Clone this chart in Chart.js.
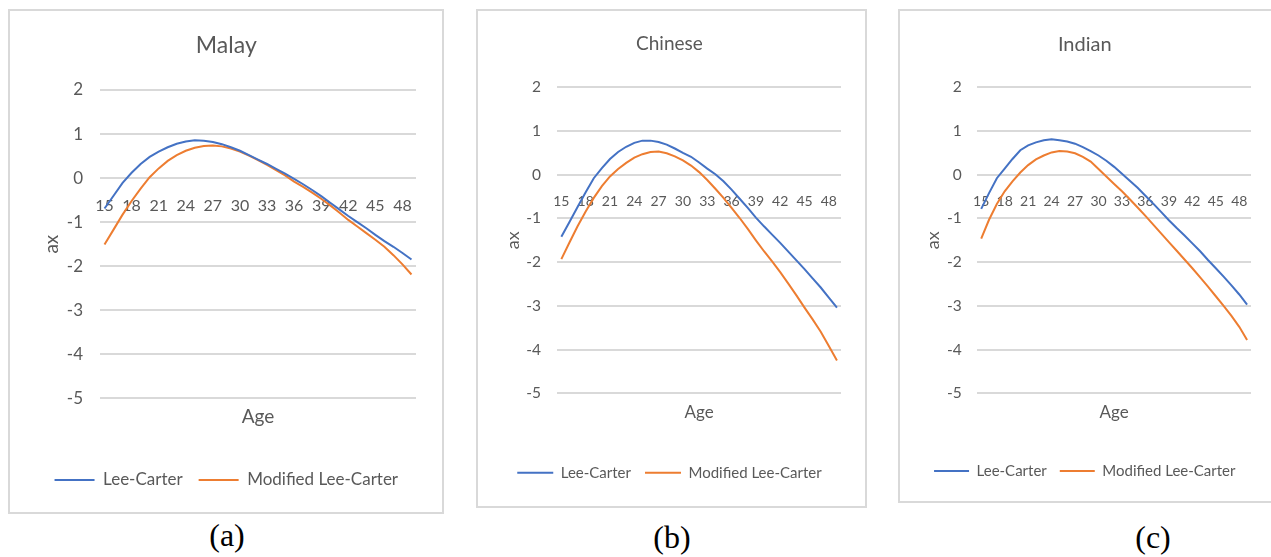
<!DOCTYPE html>
<html><head><meta charset="utf-8">
<script src="https://cdn.jsdelivr.net/npm/chart.js@4/dist/chart.umd.min.js"></script>
<style>
html,body{margin:0;padding:0;background:#fff;width:1271px;height:557px;overflow:hidden;position:relative}
.frame{position:absolute;box-sizing:border-box;border:2px solid #d9d9d9;background:#fff}
canvas{position:absolute}
.cap{position:absolute;font-family:"Liberation Serif","Times New Roman",serif;font-size:32px;color:#000;transform:translate(-50%,-50%);white-space:nowrap;line-height:1}
</style></head><body>
<div class="frame" style="left:8px;top:9px;width:436px;height:505px"></div>
<canvas id="c1" width="434" height="503" style="left:9px;top:10px"></canvas>
<div class="frame" style="left:476px;top:9px;width:391px;height:499px"></div>
<canvas id="c2" width="389" height="497" style="left:477px;top:10px"></canvas>
<div class="frame" style="left:898px;top:9px;width:380px;height:494px"></div>
<canvas id="c3" width="376" height="492" style="left:899px;top:10px"></canvas>
<div class="cap" style="left:227px;top:535px">(a)</div>
<div class="cap" style="left:672px;top:537px">(b)</div>
<div class="cap" style="left:1153px;top:537px">(c)</div>
<script>
// ---- data ----
const ages = [15,16,17,18,19,20,21,22,23,24,25,26,27,28,29,30,31,32,33,34,35,36,37,38,39,40,41,42,43,44,45,46,47,48,49];
const shownAgeTicks = [15,18,21,24,27,30,33,36,39,42,45,48];
const seriesNames = ['Lee-Carter', 'Modified Lee-Carter'];
const panelTitles = ['Malay', 'Chinese', 'Indian'];
const yMin = -5, yMax = 2, yStep = 1;

const malayLC  = [-0.69,-0.40,-0.11,0.12,0.32,0.48,0.60,0.70,0.78,0.83,0.86,0.85,0.82,0.77,0.70,0.62,0.52,0.42,0.32,0.21,0.10,-0.02,-0.14,-0.27,-0.41,-0.56,-0.71,-0.86,-1.00,-1.14,-1.29,-1.43,-1.56,-1.70,-1.85];
const malayMLC = [-1.51,-1.17,-0.83,-0.52,-0.24,0.02,0.22,0.39,0.52,0.62,0.69,0.73,0.74,0.72,0.67,0.60,0.51,0.41,0.30,0.18,0.06,-0.08,-0.20,-0.33,-0.47,-0.62,-0.78,-0.95,-1.10,-1.25,-1.40,-1.56,-1.75,-1.96,-2.19];
const chineseLC  = [-1.42,-1.08,-0.74,-0.40,-0.08,0.15,0.36,0.52,0.64,0.73,0.78,0.78,0.75,0.69,0.60,0.50,0.41,0.28,0.14,0.01,-0.15,-0.34,-0.55,-0.76,-0.98,-1.18,-1.37,-1.56,-1.76,-1.96,-2.16,-2.37,-2.58,-2.81,-3.04];
const chineseMLC = [-1.93,-1.55,-1.18,-0.84,-0.53,-0.26,-0.04,0.13,0.27,0.39,0.47,0.52,0.53,0.49,0.42,0.33,0.21,0.06,-0.12,-0.32,-0.53,-0.76,-0.99,-1.24,-1.50,-1.75,-1.98,-2.23,-2.49,-2.76,-3.04,-3.31,-3.59,-3.92,-4.25];
const indianLC  = [-0.78,-0.42,-0.08,0.14,0.36,0.56,0.67,0.74,0.79,0.81,0.79,0.76,0.71,0.63,0.54,0.44,0.32,0.18,0.02,-0.14,-0.30,-0.48,-0.66,-0.85,-1.04,-1.22,-1.39,-1.57,-1.75,-1.95,-2.14,-2.33,-2.53,-2.74,-2.97];
const indianMLC = [-1.46,-1.03,-0.67,-0.38,-0.15,0.05,0.22,0.35,0.44,0.51,0.54,0.53,0.49,0.41,0.30,0.13,-0.04,-0.21,-0.38,-0.56,-0.75,-0.94,-1.14,-1.34,-1.54,-1.74,-1.94,-2.14,-2.35,-2.56,-2.78,-3.00,-3.23,-3.48,-3.78];

// ---- styles ----
const BLUE = '#4472C4', ORANGE = '#ED7D31', GRAY = '#595959', GRID = '#d9d9d9', FONT = 'Lato';

function makeChart(id, title, lc, mlc, p) {
  return new Chart(document.getElementById(id), {
    type: 'line',
    data: {
      labels: ages,
      datasets: [
        {label: seriesNames[0], data: lc, borderColor: BLUE, backgroundColor: BLUE, borderWidth: 2, pointRadius: 0, tension: 0, xAxisID: 'x', yAxisID: 'y'},
        {label: seriesNames[1], data: mlc, borderColor: ORANGE, backgroundColor: ORANGE, borderWidth: 2, pointRadius: 0, tension: 0, xAxisID: 'x', yAxisID: 'y'}
      ]
    },
    options: {
      responsive: false, animation: false, events: [],
      layout: {padding: {left: p.padL, right: p.padR, top: 0, bottom: p.padB}},
      plugins: {
        title: {display: true, text: title, color: GRAY, font: {family: FONT, size: p.titleSize, weight: 'normal'}, padding: {top: p.titleTop, bottom: p.titleBottom}},
        legend: {position: 'bottom', labels: {boxWidth: p.boxW, boxHeight: 0, color: GRAY, font: {family: FONT, size: p.legendSize}, padding: p.legendPad}},
        tooltip: {enabled: false}
      },
      scales: {
        y: {
          min: yMin, max: yMax,
          ticks: {stepSize: yStep, color: GRAY, font: {family: FONT, size: p.yTickSize}, padding: p.yTickPad},
          grid: {color: GRID, lineWidth: 2, drawTicks: false},
          border: {display: false},
          title: {display: true, text: 'ax', color: GRAY, font: {family: FONT, size: p.axTitleSize}, padding: {top: 4, bottom: 0}},
          afterFit: s => { s.width = p.yW; }
        },
        x: {
          type: 'category', position: {y: 0}, offset: true,
          grid: {display: false, drawTicks: false}, border: {display: false},
          ticks: {autoSkip: false, maxRotation: 0, minRotation: 0, color: GRAY, font: {family: FONT, size: p.xTickSize}, padding: p.xTickPad,
            callback: function(v) { const lab = this.getLabelForValue(v); return shownAgeTicks.includes(Number(lab)) ? String(lab) : ''; }}
        },
        x2: {
          type: 'category', position: 'bottom', offset: true,
          grid: {display: false, drawTicks: false}, border: {display: false},
          ticks: {display: false},
          title: {display: true, text: 'Age', color: GRAY, font: {family: FONT, size: p.ageSize}, padding: {top: 0, bottom: p.agePadB}},
          afterFit: s => { s.height = p.x2H; }
        }
      }
    }
  });
}

makeChart('c1', panelTitles[0], malayLC, malayMLC, {
  padL: 27.6, padR: 27, padB: 14.5, titleSize: 23, titleTop: 22.2, titleBottom: 30.2,
  boxW: 40, legendSize: 17, legendPad: 16, yTickSize: 17, yTickPad: 17, axTitleSize: 19, yW: 63.4,
  xTickSize: 16, xTickPad: 18, ageSize: 19, agePadB: 27.1, x2H: 57.2
});
makeChart('c2', panelTitles[1], chineseLC, chineseMLC, {
  padL: 20.9, padR: 25, padB: 16.8, titleSize: 19, titleTop: 22.6, titleBottom: 31.9,
  boxW: 36, legendSize: 15, legendPad: 14, yTickSize: 15.5, yTickPad: 16.3, axTitleSize: 18, yW: 59.4,
  xTickSize: 14, xTickPad: 18, ageSize: 17, agePadB: 28.3, x2H: 57.9
});
makeChart('c3', panelTitles[2], indianLC, indianMLC, {
  padL: 19.5, padR: 24, padB: 13.5, titleSize: 20, titleTop: 23, titleBottom: 30.3,
  boxW: 35, legendSize: 15, legendPad: 13, yTickSize: 15.5, yTickPad: 15.6, axTitleSize: 18, yW: 58.8,
  xTickSize: 14, xTickPad: 18, ageSize: 17, agePadB: 27.8, x2H: 57.2
});
</script>
</body></html>
